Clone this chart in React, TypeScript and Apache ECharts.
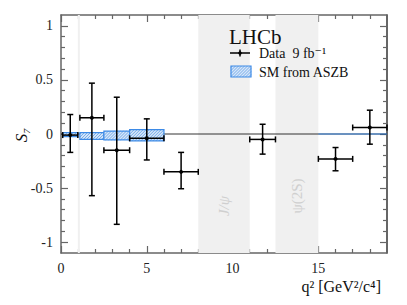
import React, { useEffect, useRef } from "react";
import * as echarts from "echarts";

// Data (LHCb S7 vs q^2)
const binLow = [0.1, 1.1, 2.5, 4.0, 6.0, 11.0, 15.0, 17.0];
const binHigh = [0.98, 2.5, 4.0, 6.0, 8.0, 12.5, 17.0, 19.0];
const s7Value = [-0.01, 0.15, -0.15, -0.04, -0.35, -0.05, -0.23, 0.06];
const s7Upper = [0.18, 0.47, 0.34, 0.14, -0.17, 0.09, -0.125, 0.22];
const s7Lower = [-0.17, -0.57, -0.835, -0.24, -0.506, -0.186, -0.34, -0.094];

const smLow = [0.1, 1.1, 2.5, 4.0, 15.0];
const smHigh = [0.98, 2.5, 4.0, 6.0, 19.0];
const smMin = [-0.024, -0.05, -0.055, -0.064, 0.0];
const smMax = [0.012, 0.012, 0.027, 0.04, 0.0];

const vetoLow = [0.98, 8.0, 12.5];
const vetoHigh = [1.1, 11.0, 15.0];

const xMajorTicks = [0, 5, 10, 15];
const xMinorTicks = [1, 2, 3, 4, 6, 7, 8, 9, 11, 12, 13, 14, 16, 17, 18];
const yMajorTicks = [-1, -0.5, 0, 0.5, 1];
const yMinorTicks = [
  -0.9, -0.8, -0.7, -0.6, -0.4, -0.3, -0.2, -0.1,
  0.1, 0.2, 0.3, 0.4, 0.6, 0.7, 0.8, 0.9,
];

const FONT = "'Liberation Serif', 'DejaVu Serif', serif";
const AXIS_COLOR = "#666";

function hatchRect(x0: number, y0: number, x1: number, y1: number, step: number, z?: number) {
  const segs: any[] = [];
  for (let c = x0 + y0 + step / 2; c < x1 + y1; c += step) {
    const xa = Math.max(x0, c - y1);
    const xb = Math.min(x1, c - y0);
    if (xb > xa) {
      const seg: any = {
        type: "line",
        shape: { x1: xa, y1: c - xa, x2: xb, y2: c - xb },
        style: { stroke: "#5b9be4", lineWidth: 0.8 },
      };
      if (z !== undefined) seg.z = z;
      segs.push(seg);
    }
  }
  return segs;
}

export default function App() {
  const ref = useRef<HTMLDivElement>(null);

  useEffect(() => {
    if (!ref.current) return;
    const chart = echarts.init(ref.current, undefined, { renderer: "svg" });

    const dataPts = binLow.map((l, i) => [l, binHigh[i], s7Value[i], s7Lower[i], s7Upper[i]]);
    const smPts = smLow.map((l, i) => [l, smHigh[i], smMin[i], smMax[i]]);

    const xBase = { type: "value", min: 0, max: 19, gridIndex: 0, splitLine: { show: false } };
    const yBase = { type: "value", min: -1.1, max: 1.1, gridIndex: 0, splitLine: { show: false } };
    const tickStyle = { color: AXIS_COLOR, width: 1.2 };

    const mkAxis = (base: any, position: string, major: boolean, line: boolean, labels: boolean, lineColor = AXIS_COLOR) => ({
      ...base,
      position,
      axisLine: { show: line, onZero: false, lineStyle: { color: lineColor, width: 1.5 } },
      axisTick: {
        show: true,
        inside: true,
        length: major ? 7 : 4,
        customValues: major ? (base === xBase ? xMajorTicks : yMajorTicks) : base === xBase ? xMinorTicks : yMinorTicks,
        lineStyle: tickStyle,
      },
      axisLabel: labels
        ? {
            show: true,
            customValues: base === xBase ? xMajorTicks : yMajorTicks,
            margin: 8,
            color: "#222",
            fontFamily: FONT,
            fontSize: 14,
          }
        : { show: false },
    });

    const option: any = {
      animation: false,
      grid: { left: 61, top: 15, right: 20, bottom: 52, show: false },
      xAxis: [
        mkAxis(xBase, "bottom", true, true, true),
        mkAxis(xBase, "bottom", false, false, false),
        mkAxis(xBase, "top", true, true, false),
        mkAxis(xBase, "top", false, false, false),
      ],
      yAxis: [
        mkAxis(yBase, "left", true, true, true),
        mkAxis(yBase, "left", false, false, false),
        mkAxis(yBase, "right", true, true, false, "#333"),
        mkAxis(yBase, "right", false, false, false),
      ],
      series: [
        {
          type: "line",
          xAxisIndex: 0,
          yAxisIndex: 0,
          data: [[0, 0], [19, 0]],
          symbol: "none",
          silent: true,
          lineStyle: { color: "#000", width: 0.8 },
          z: 2,
          markArea: {
            silent: true,
            itemStyle: { color: "#f0f0f0" },
            data: vetoLow.map((l, i) => [{ xAxis: l }, { xAxis: vetoHigh[i] }]),
          },
        },
        {
          type: "custom",
          xAxisIndex: 0,
          yAxisIndex: 0,
          data: smPts,
          encode: { x: [0, 1], y: [2, 3] },
          z: 3,
          renderItem: (params: any, api: any) => {
            const xl = api.value(0), xh = api.value(1), yl = api.value(2), yh = api.value(3);
            const p0 = api.coord([xl, yh]);
            const p1 = api.coord([xh, yl]);
            const h = p1[1] - p0[1];
            if (h < 1.5) {
              return {
                type: "line",
                shape: { x1: p0[0], y1: p0[1], x2: p1[0], y2: p0[1] },
                style: { stroke: "#3d8ae6", lineWidth: 1.2 },
              };
            }
            return {
              type: "group",
              children: [
                {
                  type: "rect",
                  shape: { x: p0[0], y: p0[1], width: p1[0] - p0[0], height: h },
                  style: { fill: "#d6e6f9", stroke: "none" },
                },
                ...hatchRect(p0[0], p0[1], p1[0], p1[1], 3),
                {
                  type: "rect",
                  shape: { x: p0[0], y: p0[1], width: p1[0] - p0[0], height: h },
                  style: { fill: "none", stroke: "#3d8ae6", lineWidth: 1.2 },
                },
              ],
            };
          },
        },
        {
          type: "custom",
          xAxisIndex: 0,
          yAxisIndex: 0,
          data: dataPts,
          encode: { x: [0, 1], y: [2, 3, 4] },
          z: 4,
          renderItem: (params: any, api: any) => {
            const xl = api.value(0), xh = api.value(1), y = api.value(2), yl = api.value(3), yh = api.value(4);
            const xc = (xl + xh) / 2;
            const pL = api.coord([xl, y]);
            const pR = api.coord([xh, y]);
            const pT = api.coord([xc, yh]);
            const pB = api.coord([xc, yl]);
            const pC = api.coord([xc, y]);
            const cap = 3;
            const st = { stroke: "#000", lineWidth: 1.5 };
            const ln = (x1: number, y1: number, x2: number, y2: number) => ({
              type: "line",
              shape: { x1, y1, x2, y2 },
              style: st,
            });
            return {
              type: "group",
              children: [
                ln(pL[0], pL[1], pR[0], pR[1]),
                ln(pT[0], pT[1], pB[0], pB[1]),
                ln(pL[0], pL[1] - cap, pL[0], pL[1] + cap),
                ln(pR[0], pR[1] - cap, pR[0], pR[1] + cap),
                ln(pT[0] - cap, pT[1], pT[0] + cap, pT[1]),
                ln(pB[0] - cap, pB[1], pB[0] + cap, pB[1]),
                { type: "circle", shape: { cx: pC[0], cy: pC[1], r: 2 }, style: { fill: "#000" } },
              ],
            };
          },
        },
      ],
      graphic: [
        {
          type: "text",
          x: 224,
          y: 206,
          rotation: Math.PI / 2,
          z: 50,
          style: {
            text: "J/ψ",
            fill: "#cfcfcf",
            font: `italic 15px ${FONT}`,
            align: "center",
            verticalAlign: "middle",
          },
        },
        {
          type: "text",
          x: 297,
          y: 196,
          rotation: Math.PI / 2,
          z: 50,
          style: {
            text: "ψ(2S)",
            fill: "#cfcfcf",
            font: `15px ${FONT}`,
            align: "center",
            verticalAlign: "middle",
          },
        },
        {
          type: "text",
          x: 21,
          y: 135,
          rotation: Math.PI / 2,
          z: 50,
          style: {
            text: "S₇",
            fill: "#111",
            font: `italic 17px ${FONT}`,
            align: "center",
            verticalAlign: "middle",
          },
        },
        {
          type: "text",
          x: 381,
          y: 286,
          z: 50,
          style: {
            text: "q² [GeV²/c⁴]",
            fill: "#111",
            font: `16px ${FONT}`,
            align: "right",
            verticalAlign: "middle",
          },
        },
        {
          type: "text",
          x: 229,
          y: 37,
          z: 50,
          style: {
            text: "LHCb",
            fill: "#111",
            font: `21px ${FONT}`,
            align: "left",
            verticalAlign: "middle",
          },
        },
        { type: "line", z: 50, shape: { x1: 230, y1: 53, x2: 250, y2: 53 }, style: { stroke: "#000", lineWidth: 1.5 } },
        { type: "line", z: 50, shape: { x1: 240, y1: 49.5, x2: 240, y2: 56.5 }, style: { stroke: "#000", lineWidth: 1.5 } },
        { type: "circle", z: 50, shape: { cx: 240, cy: 53, r: 1.8 }, style: { fill: "#000" } },
        {
          type: "text",
          x: 259,
          y: 53,
          z: 50,
          style: {
            text: "Data  9 fb⁻¹",
            fill: "#111",
            font: `14px ${FONT}`,
            align: "left",
            verticalAlign: "middle",
          },
        },
        { type: "rect", z: 50, shape: { x: 231, y: 66, width: 20, height: 11 }, style: { fill: "#d6e6f9", stroke: "none" } },
        ...hatchRect(231, 66, 251, 77, 3, 51),
        { type: "rect", z: 52, shape: { x: 231, y: 66, width: 20, height: 11 }, style: { fill: "none", stroke: "#3d8ae6", lineWidth: 1.2 } },
        {
          type: "text",
          x: 259,
          y: 72,
          z: 50,
          style: {
            text: "SM from ASZB",
            fill: "#111",
            font: `14px ${FONT}`,
            align: "left",
            verticalAlign: "middle",
          },
        },
      ],
    };

    chart.setOption(option);
    return () => chart.dispose();
  }, []);

  return <div ref={ref} style={{ width: 407, height: 305, position: "absolute", left: 0, top: 0 }} />;
}
